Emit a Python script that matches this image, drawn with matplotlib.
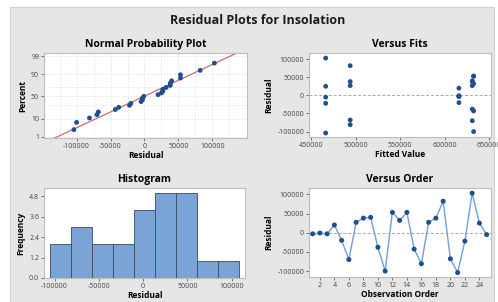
import matplotlib
matplotlib.use("Agg")
import matplotlib.pyplot as plt
from matplotlib.patches import Rectangle
import numpy as np
from statistics import NormalDist

plt.rcParams['font.family'] = ['Open Sans', 'DejaVu Sans']

# ---- data ----
order_residuals = [-3000, -1000, -3000, 20000, -20000,
                   -70000, 27000, 38000, 40000, -38000,
                   -100000, 53000, 32000, 53000, -43000,
                   -81000, 27000, 38000, 82000, -68000,
                   -104000, -22000, 103000, 25000, -5000]
fitted_values = [616000, 616000, 616000, 616000, 616000,
                 631000, 631000, 631000, 631000, 631000,
                 632500, 632500, 632500, 632500, 632500,
                 494000, 494000, 494000, 494000, 494000,
                 466500, 466500, 466500, 466500, 466500]
pct_ticks = [1, 10, 50, 90, 99]
pct_grid = [1, 10, 30, 50, 70, 90, 99]
hist_start = -105000
hist_width = 23700
hist_nbins = 9
freq_ticks = [0.0, 1.2, 2.4, 3.6, 4.8]

W, H = 498, 302
fig = plt.figure(figsize=(W / 100, H / 100), dpi=100)
fig.patch.set_facecolor('white')
fig.patches.append(Rectangle((10 / W, 0), (494 - 10) / W, (302 - 7) / H,
                             transform=fig.transFigure, facecolor='#e6e6e6',
                             edgecolor='#d2d2d2', lw=0.8, zorder=-10))

DOT = '#1d4f91'
TICKC = '#444444'
SPINE = '#bdbdbd'


def box(left, top, right, bottom):
    return [left / W, 1 - bottom / H, (right - left) / W, (bottom - top) / H]


def style(ax):
    for s in ax.spines.values():
        s.set_color(SPINE)
        s.set_linewidth(0.8)
    ax.tick_params(labelsize=5, colors=TICKC, length=2, width=0.5, pad=1.5)
    ax.set_facecolor('white')


nd = NormalDist()
res = np.array(order_residuals, dtype=float)
n = len(res)

# ---- Normal probability plot ----
ax1 = fig.add_axes(box(44, 53, 247, 138))
style(ax1)
srt = np.sort(res)
pp = (np.arange(1, n + 1) - 0.3) / (n + 0.4)
z = np.array([nd.inv_cdf(p) for p in pp])
mu, sd = res.mean(), res.std(ddof=1)
xl = np.array([-160000, 160000])
ax1.plot(xl, (xl - mu) / sd, color='#c9706c', lw=0.9, zorder=2)
ax1.scatter(srt, z, s=12, color=DOT, zorder=3, edgecolors='none')
ax1.set_xlim(-148000, 151000)
ax1.set_ylim(-2.40, 2.50)
ax1.set_yticks([nd.inv_cdf(p / 100) for p in pct_ticks])
ax1.set_yticklabels([str(p) for p in pct_ticks])
ax1.set_xticks([-100000, -50000, 0, 50000, 100000])
ax1.set_xticklabels(['-100000', '-50000', '0', '50000', '100000'])
for p in pct_grid:
    ax1.axhline(nd.inv_cdf(p / 100), color='#dcdcdc', lw=0.5, ls=(0, (2, 2)), zorder=0)
for xv in [-125000, -100000, -75000, -50000, -25000, 0, 25000, 50000, 75000, 100000, 125000]:
    ax1.axvline(xv, color='#dcdcdc', lw=0.5, ls=(0, (2, 2)), zorder=0)
ax1.set_xlabel('Residual', fontsize=6, fontweight='bold', labelpad=1)
ax1.set_ylabel('Percent', fontsize=6, fontweight='bold', labelpad=3)
ax1.set_title('Normal Probability Plot', fontsize=7.5, fontweight='bold', pad=4)

# ---- Versus fits ----
ax2 = fig.add_axes(box(309, 53, 491, 137))
style(ax2)
ax2.axhline(0, color='#a8a8a8', lw=0.7, ls=(0, (3, 2)), zorder=1)
ax2.scatter(fitted_values, order_residuals, s=12, color=DOT, zorder=3, edgecolors='none')
ax2.set_xlim(447800, 652000)
ax2.set_ylim(-115000, 117000)
ax2.set_xticks([450000, 500000, 550000, 600000, 650000])
ax2.set_xticklabels(['450000', '500000', '550000', '600000', '650000'])
ax2.set_yticks([-100000, -50000, 0, 50000, 100000])
ax2.set_yticklabels(['-100000', '-50000', '0', '50000', '100000'])
ax2.set_xlabel('Fitted Value', fontsize=6, fontweight='bold', labelpad=1)
ax2.set_ylabel('Residual', fontsize=6, fontweight='bold', labelpad=3)
ax2.set_title('Versus Fits', fontsize=7.5, fontweight='bold', pad=4)

# ---- Histogram ----
ax3 = fig.add_axes(box(44, 188, 245, 278))
style(ax3)
bins = hist_start + hist_width * np.arange(hist_nbins + 1)
ax3.hist(res, bins=bins, color='#7aa3d6', edgecolor='#3c4a5c', linewidth=0.6, zorder=2)
ax3.set_xlim(-112000, 115000)
ax3.set_ylim(0, 5.3)
ax3.set_yticks(freq_ticks)
ax3.set_yticklabels([f'{v:.1f}' for v in freq_ticks])
ax3.set_xticks([-100000, -50000, 0, 50000, 100000])
ax3.set_xticklabels(['-100000', '-50000', '0', '50000', '100000'])
ax3.set_xlabel('Residual', fontsize=6, fontweight='bold', labelpad=1)
ax3.set_ylabel('Frequency', fontsize=6, fontweight='bold', labelpad=3)
ax3.set_title('Histogram', fontsize=7.5, fontweight='bold', pad=4)

# ---- Versus order ----
ax4 = fig.add_axes(box(309, 188, 491, 277))
style(ax4)
order = np.arange(1, n + 1)
ax4.axhline(0, color='#a8a8a8', lw=0.7, ls=(0, (3, 2)), zorder=1)
ax4.plot(order, res, color='#6f9fd8', lw=1.0, zorder=2)
ax4.scatter(order, res, s=13, color=DOT, zorder=3, edgecolors='none')
ax4.set_xlim(0.5, 25.6)
ax4.set_ylim(-115500, 116500)
ax4.set_xticks(np.arange(2, 25, 2))
ax4.set_yticks([-100000, -50000, 0, 50000, 100000])
ax4.set_yticklabels(['-100000', '-50000', '0', '50000', '100000'])
ax4.set_xlabel('Observation Order', fontsize=6, fontweight='bold', labelpad=1)
ax4.set_ylabel('Residual', fontsize=6, fontweight='bold', labelpad=3)
ax4.set_title('Versus Order', fontsize=7.5, fontweight='bold', pad=4)

fig.text(258 / W, 1 - 20 / H, 'Residual Plots for Insolation', ha='center', va='center',
         fontsize=9, fontweight='bold', color='#1a1a1a')

fig.savefig('out.png', dpi=100)
